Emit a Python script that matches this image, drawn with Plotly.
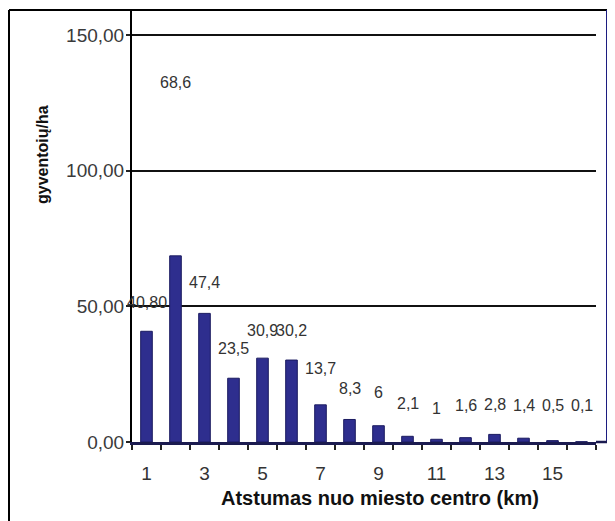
import plotly.graph_objects as go

# ---- data ----
distance_km = list(range(1, 17))
density = [40.8, 68.6, 47.4, 23.5, 30.9, 30.2, 13.7, 8.3, 6, 2.1, 1, 1.6, 2.8, 1.4, 0.5, 0.1]
value_labels = ["40,80", "68,6", "47,4", "23,5", "30,9", "30,2", "13,7", "8,3", "6",
                "2,1", "1", "1,6", "2,8", "1,4", "0,5", "0,1"]
x_tick_vals = [1, 3, 5, 7, 9, 11, 13, 15]
y_tick_vals = [0, 50, 100, 150]
y_tick_text = ["0,00", "50,00", "100,00", "150,00"]

# ---- style ----
label_shift = [29, 173, 31, 30, 28, 30, 36, 31, 33, 33, 31, 32, 30, 33, 35, 36]
OFF = 8                      # page body margin
W, H = 615 - OFF, 521 - OFF
L, R, T, B = 132, 596, 10, 442  # plot area in window pixels
FONT = "Arial, Liberation Sans, sans-serif"
NAVY = "#2E2E8E"


def px(xp):
    return (xp - L) / (R - L)


def py(yp):
    return (B - yp) / (B - T)


fig = go.Figure()
fig.add_trace(go.Bar(
    x=distance_km, y=density, width=0.4,
    marker=dict(color=NAVY, line=dict(color="#1b1b60", width=1)),
    hoverinfo="x+y",
))

annotations = []
for xv, yv, txt, sh in zip(distance_km, density, value_labels, label_shift):
    annotations.append(dict(x=xv, y=yv, xref="x", yref="y", text=txt, showarrow=False,
                            yshift=sh, xanchor="center", yanchor="middle",
                            font=dict(family=FONT, size=16, color="#333333")))

annotations.append(dict(x=px(380), y=py(498), xref="paper", yref="paper",
                        text="<b>Atstumas nuo miesto centro (km)</b>", showarrow=False,
                        xanchor="center", yanchor="middle",
                        font=dict(family=FONT, size=20, color="#111111")))
annotations.append(dict(x=px(42), y=py(155), xref="paper", yref="paper",
                        text="<b>gyventoių/ha</b>", showarrow=False, textangle=-90,
                        xanchor="center", yanchor="middle",
                        font=dict(family=FONT, size=16, color="#111111")))

shapes = [
    # outer frame: top and left black
    dict(type="line", xref="paper", yref="paper", x0=px(9), x1=px(615), y0=py(10), y1=py(10),
         line=dict(color="black", width=2)),
    dict(type="line", xref="paper", yref="paper", x0=px(9), x1=px(9), y0=py(10), y1=py(521),
         line=dict(color="black", width=2)),
    # right blue border
    dict(type="line", xref="paper", yref="paper", x0=px(607), x1=px(607), y0=py(10), y1=py(443),
         line=dict(color="#1c1c80", width=2)),
    # axis extension to blue border
    dict(type="line", xref="paper", yref="paper", x0=px(R), x1=px(607), y0=py(442), y1=py(442),
         line=dict(color="#1b1b50", width=2.5)),
]

fig.update_layout(
    width=W, height=H,
    margin=dict(l=L - OFF, r=615 - R, t=T - OFF, b=521 - B, pad=0),
    paper_bgcolor="white", plot_bgcolor="white",
    showlegend=False,
    annotations=annotations,
    shapes=shapes,
    xaxis=dict(
        range=[0.5, 16.5], tickmode="array", tickvals=x_tick_vals,
        ticktext=[str(v) for v in x_tick_vals], ticks="", showgrid=False, zeroline=False,
        showline=True, linecolor="#1b1b50", linewidth=2.5,
        tickfont=dict(family=FONT, size=19, color="#333333"),
        ticklabelstandoff=12,
        minor=dict(tickmode="array", tickvals=[v + 0.5 for v in range(0, 17)],
                   ticks="outside", ticklen=5, tickwidth=1.5, tickcolor="#222222",
                   showgrid=False),
    ),
    yaxis=dict(
        range=[0, 159.2], tickmode="array", tickvals=y_tick_vals, ticktext=y_tick_text,
        showgrid=True, gridcolor="#111111", gridwidth=2, zeroline=False,
        showline=True, linecolor="black", linewidth=2,
        ticks="outside", ticklen=4, tickcolor="#222222", tickwidth=1.5,
        ticklabelstandoff=-2,
        tickfont=dict(family=FONT, size=19, color="#3a3a3a"),
    ),
)

fig.write_html("out.html")
